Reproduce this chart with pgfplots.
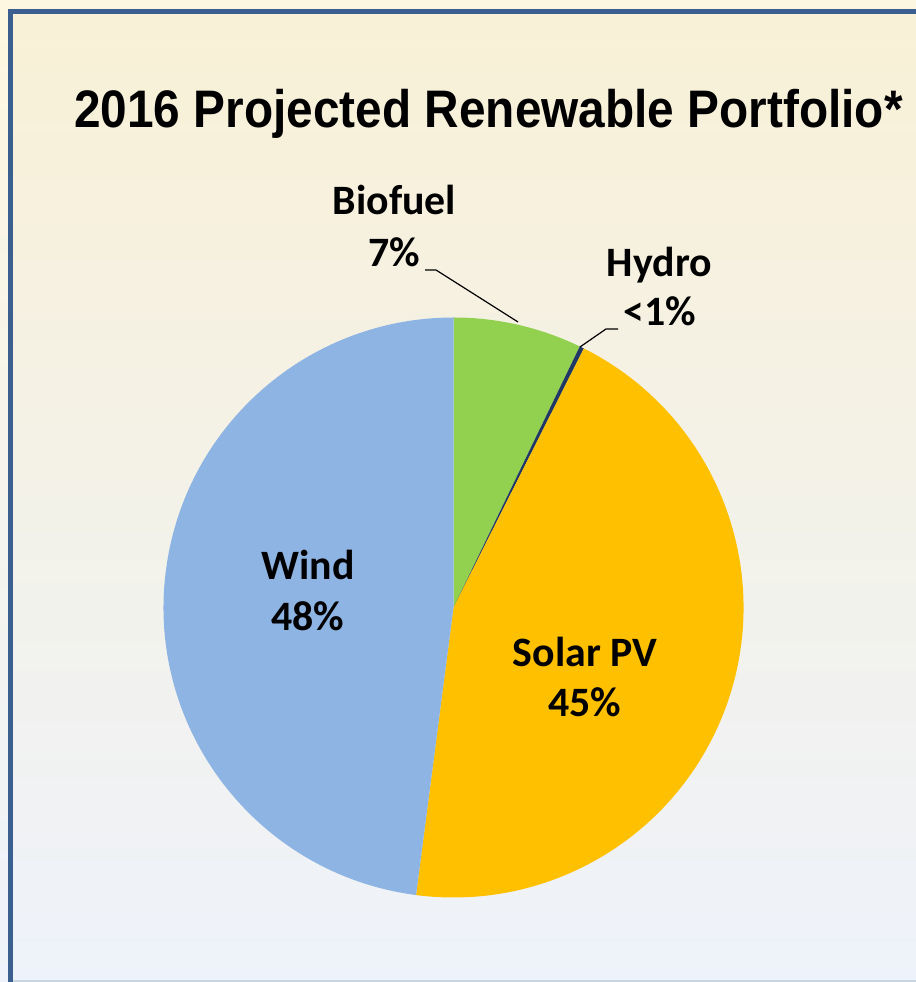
\documentclass[border=0pt]{standalone}
\usepackage{pgfplots}
\pgfplotsset{compat=1.18}
\usepackage{pgfplotstable}
\usepackage{fontspec}
\setmainfont{Liberation Sans}
\newfontfamily\titlefont[FakeStretch=0.905]{Liberation Sans}
\newfontfamily\calibri{Carlito}
\usetikzlibrary{calc}

\definecolor{bgtop}{HTML}{F9F1D6}
\definecolor{bgbot}{HTML}{EEF2FA}
\definecolor{outer}{HTML}{FDF6E0}
\definecolor{framec}{HTML}{3B5F8E}
\definecolor{windc}{HTML}{8EB4E3}
\definecolor{solarc}{HTML}{FFC000}
\definecolor{bioc}{HTML}{92D050}
\definecolor{hydroc}{HTML}{1F3864}

\pgfplotstableread{
label share
Biofuel 7.17
Hydro 0.25
SolarPV 44.64
Wind 47.94
}\piedata

\pgfplotstablegetelem{0}{share}\of\piedata \edef\sA{\pgfplotsretval}
\pgfplotstablegetelem{1}{share}\of\piedata \edef\sB{\pgfplotsretval}
\pgfplotstablegetelem{2}{share}\of\piedata \edef\sC{\pgfplotsretval}
\pgfplotstablegetelem{3}{share}\of\piedata \edef\sD{\pgfplotsretval}
\pgfmathsetmacro\aO{90}
\pgfmathsetmacro\aA{\aO-3.6*\sA}
\pgfmathsetmacro\aB{\aA-3.6*\sB}
\pgfmathsetmacro\aC{\aB-3.6*\sC}
\pgfmathsetmacro\aD{\aC-3.6*\sD}
\def\R{145bp}
\def\cx{453.5}
\def\cy{374.5}

\begin{document}
\begin{tikzpicture}
\begin{axis}[scale only axis, width=458bp, height=491bp,
  xmin=0, xmax=916, ymin=0, ymax=982, hide axis, clip=false]
% background
\shade[top color=bgtop, bottom color=bgbot] (axis cs:0,0) rectangle (axis cs:916,982);
\fill[outer] (axis cs:0,973) rectangle (axis cs:916,982);
\shade[top color=outer, bottom color=bgbot] (axis cs:0,0) rectangle (axis cs:8,973);
\fill[framec] (axis cs:8,0) rectangle (axis cs:13,973);
\fill[framec] (axis cs:8,968) rectangle (axis cs:916,973);
\fill[bgbot!80!framec] (axis cs:13,0) rectangle (axis cs:916,2);
% pie slices
\fill[bioc] (axis cs:\cx,\cy) -- ($(axis cs:\cx,\cy)+(\aO:\R)$) arc[start angle=\aO, end angle=\aA, radius=\R] -- cycle;
\fill[hydroc] (axis cs:\cx,\cy) -- ($(axis cs:\cx,\cy)+(\aA:\R)$) arc[start angle=\aA, end angle=\aB, radius=\R] -- cycle;
\fill[solarc] (axis cs:\cx,\cy) -- ($(axis cs:\cx,\cy)+(\aB:\R)$) arc[start angle=\aB, end angle=\aC, radius=\R] -- cycle;
\fill[windc] (axis cs:\cx,\cy) -- ($(axis cs:\cx,\cy)+(\aC:\R)$) arc[start angle=\aC, end angle=\aD, radius=\R] -- cycle;
% leader lines
\draw[black, line width=0.6pt] (axis cs:425,712) -- (axis cs:436,712) -- (axis cs:518,660);
\draw[black, line width=0.6pt] (axis cs:580,635) -- (axis cs:606,653) -- (axis cs:618,653);
% title
\node[anchor=base, font=\titlefont\bfseries\fontsize{26.5}{30}\selectfont, inner sep=0pt] at (axis cs:488.5,854) {2016 Projected Renewable Portfolio*};
% labels
\tikzset{lab/.style={anchor=base, inner sep=0pt, font=\calibri\bfseries\fontsize{21}{25}\selectfont}}
\node[lab] at (axis cs:394.5,767) {Biofuel};
\node[lab] at (axis cs:394.5,715) {7\%};
\node[lab] at (axis cs:659.5,705) {Hydro};
\node[lab] at (axis cs:659.5,656) {<1\%};
\node[lab] at (axis cs:308,402) {Wind};
\node[lab] at (axis cs:308,351) {48\%};
\node[lab] at (axis cs:585,315) {Solar PV};
\node[lab] at (axis cs:585,265) {45\%};
\end{axis}
\end{tikzpicture}
\end{document}
